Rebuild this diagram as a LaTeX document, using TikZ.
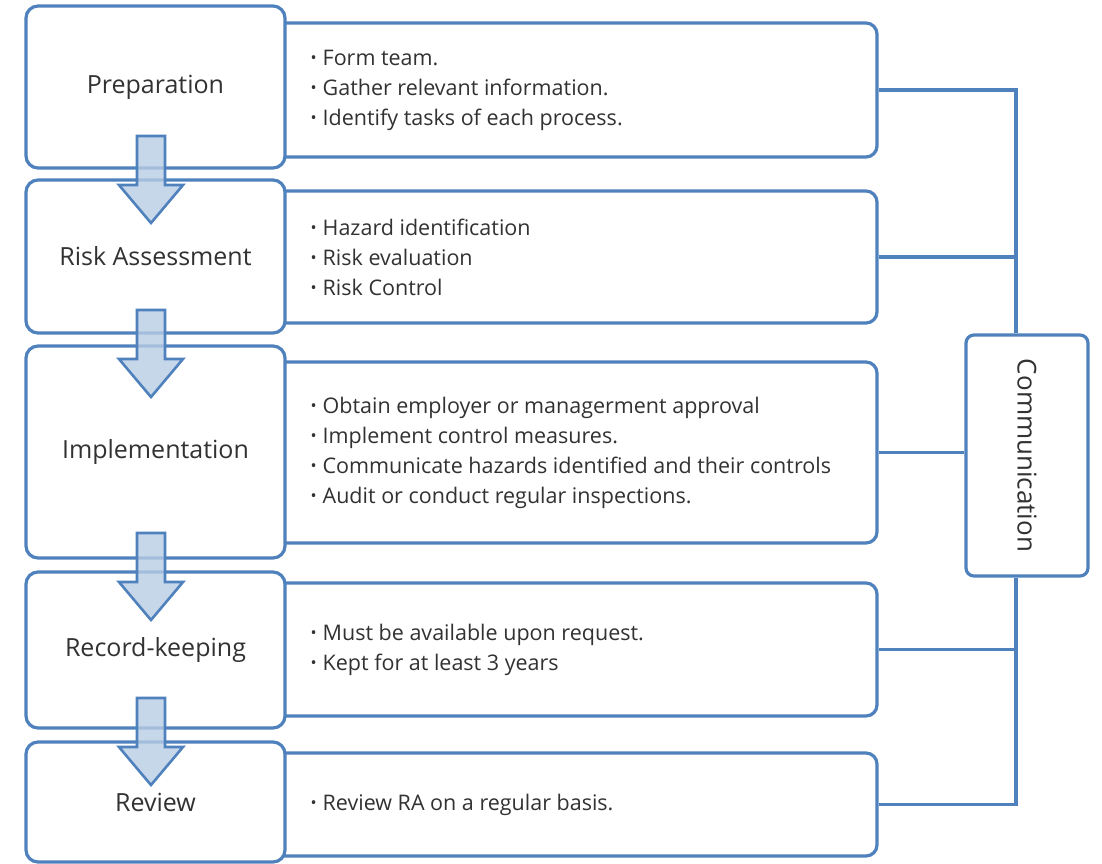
\documentclass[tikz,border=0pt]{standalone}
\usepackage{fontspec}
\setmainfont{Open Sans}
\usepackage{tikz}
\usetikzlibrary{arrows.meta,positioning,calc}
\definecolor{lineblue}{RGB}{79,129,189}
\definecolor{arrowfill}{RGB}{185,205,229}
\definecolor{txtgray}{RGB}{50,50,50}
\newcommand{\itm}{\raisebox{0.1ex}{\scalebox{0.75}{\textbullet}}\hspace{6pt}}
\tikzset{
  stagebox/.style={draw=lineblue, line width=3.2pt, rounded corners=12pt, fill=white, minimum width=259pt, text=txtgray, font=\fontsize{25}{28}\selectfont},
  detailbox/.style={draw=lineblue, line width=3.2pt, rounded corners=11pt, fill=white, minimum width=607pt},
  detailtext/.style={anchor=west, inner sep=0pt, align=left, text=txtgray, font=\fontsize{21.5}{30}\selectfont},
  commbox/.style={draw=lineblue, line width=3.2pt, rounded corners=8pt, fill=white, minimum width=241pt, minimum height=122pt, rotate=-90, text=txtgray, font=\fontsize{26}{28}\selectfont},
  busline/.style={draw=lineblue, line width=3.2pt}
}

\begin{document}
\begin{tikzpicture}[x=1pt, y=-1pt]
  \useasboundingbox (0,0) rectangle (1102,863);

  % Detail boxes (left edge hidden under the stages)
  \node[detailbox, minimum height=134pt] (prepD) at (573.5, 90) {};
  \node[detailbox, minimum height=132pt] (riskD) at (573.5, 257) {};
  \node[detailbox, minimum height=181pt] (implD) at (573.5, 452.5) {};
  \node[detailbox, minimum height=133pt] (recD) at (573.5, 649.5) {};
  \node[detailbox, minimum height=103pt] (revD) at (573.5, 804.5) {};

  % Stages
  \node[stagebox, minimum height=162pt] (prep) at (155.5, 87) {Preparation};
  \node[stagebox, minimum height=153pt] (risk) at (155.5, 256.5) {Risk Assessment};
  \node[stagebox, minimum height=212pt] (impl) at (155.5, 452) {Implementation};
  \node[stagebox, minimum height=156pt] (rec) at (155.5, 650) {Record-keeping};
  \node[stagebox, minimum height=120pt] (rev) at (155.5, 802) {Review};

  % Detail texts
  \node[detailtext] (prepT) at ([xshift=42pt]prepD.west) {\itm Form team.\\ \itm Gather relevant information.\\ \itm Identify tasks of each process.};
  \node[detailtext] (riskT) at ([xshift=42pt]riskD.west) {\itm Hazard identification\\ \itm Risk evaluation\\ \itm Risk Control};
  \node[detailtext] (implT) at ([xshift=42pt]implD.west) {\itm Obtain employer or managerment approval\\ \itm Implement control measures.\\ \itm Communicate hazards identified and their controls\\ \itm Audit or conduct regular inspections.};
  \node[detailtext] (recT) at ([xshift=42pt]recD.west) {\itm Must be available upon request.\\ \itm Kept for at least 3 years};
  \node[detailtext] (revT) at ([xshift=42pt]revD.west) {\itm Review RA on a regular basis.};

  % Flow arrows
  \foreach \t in {136,310,533,698} {
    \draw[draw=lineblue, line width=2.6pt, fill=arrowfill, fill opacity=0.8, line join=miter]
      (137,\t) -- (165,\t) -- (165,\t+49) -- (183,\t+49) -- (151,\t+87)
      -- (119,\t+49) -- (137,\t+49) -- cycle;
  }

  % Communication (rotated: west is top, east is bottom, south is left)
  \node[commbox] (comm) at (1027, 455.5) {Communication};
  \coordinate (bus) at (1016, 0);

  \draw[busline] (prepD.east) -| (comm.west -| bus);
  \draw[busline] (riskD.east) -- (riskD.east -| bus);
  \draw[busline] (implD.east) -- (implD.east -| comm.south);
  \draw[busline] (recD.east) -- (recD.east -| bus);
  \draw[busline] (revD.east) -| (comm.east -| bus);
\end{tikzpicture}
\end{document}
